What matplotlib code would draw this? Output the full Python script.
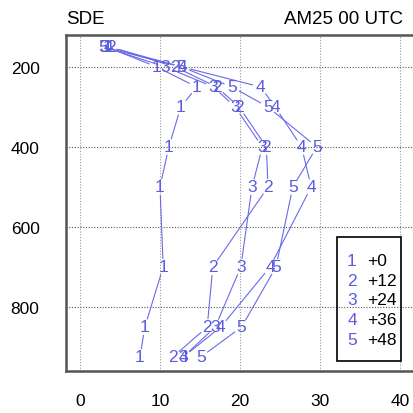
import matplotlib
matplotlib.use("Agg")
import matplotlib.pyplot as plt
from matplotlib.patches import Rectangle

plt.rcParams['font.family'] = ['Liberation Sans', 'DejaVu Sans']

levels = [925, 850, 700, 500, 400, 300, 250, 200, 150]
series_names = ["1", "2", "3", "4", "5"]
legend_labels = ["+0", "+12", "+24", "+36", "+48"]
s1 = [7.5, 8.1, 10.4, 10.0, 11.1, 12.6, 14.6, 9.6, 3.4]
s2 = [11.6, 15.9, 16.6, 23.5, 23.3, 19.9, 17.1, 11.9, 3.9]
s3 = [12.9, 16.9, 20.1, 21.5, 22.8, 19.4, 16.7, 10.7, 3.0]
s4 = [12.9, 17.6, 23.75, 28.9, 27.7, 24.4, 22.6, 12.8, 3.6]
s5 = [15.1, 20.2, 24.5, 26.6, 29.6, 23.5, 19.0, 12.7, 2.9]
series = [s1, s2, s3, s4, s5]
xticks = [0, 10, 20, 30, 40]
yticks = [200, 400, 600, 800]

W, H = 413, 414
fig = plt.figure(figsize=(W/100, H/100), dpi=100)
ax_left, ax_top, ax_bottom = 66, 36, 372
xmin, xmax = -1.75, 42.5
ax_w = (xmax - xmin) * 8.0
ax = fig.add_axes([ax_left/W, (H-ax_bottom)/H, ax_w/W, (ax_bottom-ax_top)/H])
ax.set_xlim(xmin, xmax)
ax.set_ylim(960, 120)

col = '#5c5ce0'
lcol = '#6a6ae8'
for sname, vals in zip(series_names, series):
    for i in range(len(levels)):
        ax.text(vals[i], levels[i], sname, color=col, fontsize=12.5,
                ha='center', va='center', zorder=4)
        if i + 1 < len(levels):
            ax.annotate('', xy=(vals[i+1], levels[i+1]), xytext=(vals[i], levels[i]),
                        arrowprops=dict(arrowstyle='-', color=lcol, lw=0.8,
                                        shrinkA=6, shrinkB=6), zorder=3)

ax.set_xticks(xticks)
ax.set_yticks(yticks)
ax.tick_params(axis='both', length=0, labelsize=12.5)
ax.tick_params(axis='x', pad=16)
ax.tick_params(axis='y', pad=19)
ax.grid(False)
for y in yticks:
    ax.axhline(y, color='#555555', lw=0.8, ls=(0, (1, 1.5)), zorder=1)
for x in xticks:
    ax.axvline(x, color='#9a9a9a', lw=0.8, ls=(0, (1, 1.5)), zorder=1)
for sp in ax.spines.values():
    sp.set_color('#555555')
    sp.set_linewidth(1.8)

fig.text(66/W, 1 - 20/H, "SDE", fontsize=13.5, ha='left', va='center')
fig.text(403/W, 1 - 20/H, "AM25 00 UTC", fontsize=13.5, ha='right', va='center')

# legend box
lx0, ly0, lx1, ly1 = 337, 238, 401, 362
fig.patches.append(Rectangle((lx0/W, 1 - ly1/H), (lx1-lx0)/W, (ly1-ly0)/H,
                             transform=fig.transFigure, fill=False,
                             edgecolor='black', lw=1.2, zorder=5))
for k, (sname, lab) in enumerate(zip(series_names, legend_labels)):
    yy = 1 - (261 + 20*k)/H
    fig.text(352/W, yy, sname, color=col, fontsize=12.5, ha='center', va='center')
    fig.text(367/W, yy, lab, color='black', fontsize=12.5, ha='left', va='center')

fig.savefig("out.png", dpi=100)
